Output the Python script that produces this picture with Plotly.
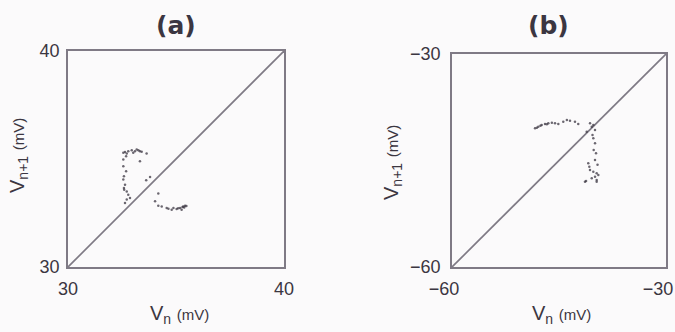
import plotly.graph_objects as go

# Return map (a): successive membrane potentials V_n -> V_n+1 (mV)
a_range = [30, 40]
a_vn = [32.56, 32.64, 32.72, 32.79, 32.95, 33.02, 33.10, 33.18, 33.26, 33.33, 33.41, 33.64,
        32.69, 33.33, 32.56, 32.56, 32.69, 32.59, 32.56, 32.64, 32.59, 32.72, 32.79, 32.87,
        32.64, 32.72, 32.60, 33.80, 33.62, 34.18, 34.03, 34.18, 34.34, 34.57, 34.80, 34.88,
        35.03, 35.19, 35.34, 35.42, 35.26, 35.10, 35.48, 35.38, 34.65, 35.30]
a_vn1 = [35.29, 35.32, 35.26, 35.36, 35.41, 35.29, 35.36, 35.44, 35.40, 35.36, 35.33, 35.26,
         35.13, 34.90, 34.98, 34.67, 34.43, 34.20, 34.05, 33.81, 33.66, 33.50, 33.35, 33.20,
         32.96, 33.12, 33.58, 34.17, 34.02, 33.40, 33.04, 32.84, 32.80, 32.73, 32.65, 32.73,
         32.68, 32.73, 32.80, 32.84, 32.65, 32.72, 32.82, 32.76, 32.70, 32.78]

# Return map (b)
b_range = [-60, -30]
b_vn = [-48.36, -48.10, -47.90, -47.60, -47.43, -46.96, -46.70, -46.50, -46.00, -45.56, -45.10,
        -44.40, -43.90, -43.46, -42.76, -42.30, -40.65, -40.41, -40.19, -41.12, -39.95, -40.19,
        -39.95, -40.14, -39.81, -39.95, -40.90, -40.75, -40.65, -40.19, -39.72, -39.95, -40.41,
        -41.21, -39.72, -39.49, -41.36, -39.72, -40.30, -39.60]
b_vn1 = [-40.47, -40.40, -40.24, -40.10, -40.00, -39.86, -39.90, -39.76, -39.67, -39.76, -39.86,
         -39.53, -39.30, -39.39, -39.53, -39.86, -39.76, -40.24, -40.00, -40.94, -40.70, -41.87,
         -42.58, -43.52, -43.99, -44.93, -45.39, -45.87, -46.34, -46.58, -46.80, -47.28, -47.50,
         -47.90, -47.75, -47.04, -48.00, -48.00, -41.40, -45.60]

ink = "#3b3641"
frame = "#7f7a85"
bg = "#fbfafb"
font = "Liberation Sans, Arial, sans-serif"

fig = go.Figure()
for xs, ys, rng, ax in [(a_vn, a_vn1, a_range, ""), (b_vn, b_vn1, b_range, "2")]:
    # identity line V_n+1 = V_n across the full axis range
    fig.add_trace(go.Scatter(x=rng, y=rng, mode="lines", line=dict(color=frame, width=1.7),
                             xaxis="x" + ax, yaxis="y" + ax, hoverinfo="skip"))
    fig.add_trace(go.Scatter(x=xs, y=ys, mode="markers",
                             marker=dict(color=ink, size=2.5, opacity=0.75),
                             xaxis="x" + ax, yaxis="y" + ax))

axis_common = dict(showgrid=False, zeroline=False, showline=True, mirror=True,
                   linecolor=frame, linewidth=1.8, ticks="", automargin=False,
                   tickfont=dict(family=font, size=18, color=ink))

fig.update_layout(
    width=675, height=332, margin=dict(l=0, r=0, t=0, b=0, autoexpand=False),
    paper_bgcolor=bg, plot_bgcolor=bg, showlegend=False,
    xaxis=dict(domain=[68 / 675, 284 / 675], range=a_range, tickvals=a_range,
               ticklabelstandoff=4, anchor="y", **axis_common),
    yaxis=dict(domain=[1 - 267 / 332, 1 - 51 / 332], range=a_range, tickvals=a_range,
               ticklabelstandoff=3, anchor="x", **axis_common),
    xaxis2=dict(domain=[452 / 675, 666 / 675], range=b_range, tickvals=b_range,
                ticklabelstandoff=4, ticklabelshift=-8, anchor="y2", **axis_common),
    yaxis2=dict(domain=[1 - 267 / 332, 1 - 54 / 332], range=b_range, tickvals=b_range,
                ticklabelstandoff=6, anchor="x2", **axis_common),
)

title_font = dict(family="DejaVu Sans, sans-serif", size=25, color=ink)
lab_font = dict(family=font, size=20, color=ink)
xlab = "V<sub>n</sub> <span style='font-size:15px'>(mV)</span>"
ylab = "V<sub>n+1</sub> <span style='font-size:15px'>(mV)</span>"
ann = [
    dict(text="<b>(a)</b>", x=176 / 675, y=1 - 26 / 332, font=title_font),
    dict(text="<b>(b)</b>", x=548 / 675, y=1 - 26 / 332, font=title_font),
    dict(text=xlab, x=179 / 675, y=1 - 314 / 332, font=lab_font),
    dict(text=xlab, x=561 / 675, y=1 - 314 / 332, font=lab_font),
    dict(text=ylab, x=18 / 675, y=1 - 156 / 332, font=lab_font, textangle=-90),
    dict(text=ylab, x=392 / 675, y=1 - 163 / 332, font=lab_font, textangle=-90),
]
for a in ann:
    fig.add_annotation(xref="paper", yref="paper", showarrow=False,
                       xanchor="center", yanchor="middle", **a)

fig.write_html("out.html")
